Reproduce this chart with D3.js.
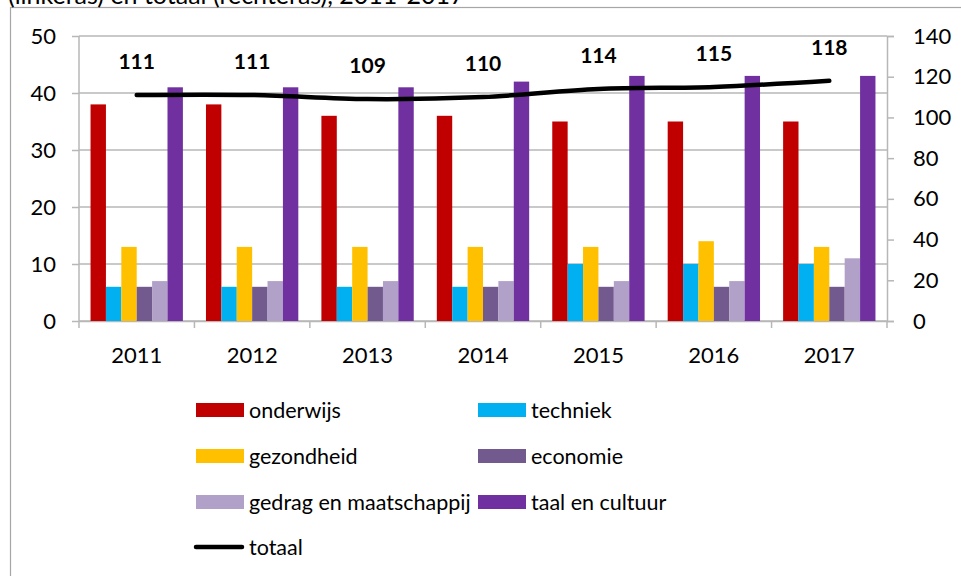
<!DOCTYPE html>
<html><head><meta charset="utf-8">
<script src="https://cdn.jsdelivr.net/npm/d3@7"></script>
<style>body{margin:0;background:#fff;}svg{display:block;font-family:Lato,"Open Sans",sans-serif;}</style>
</head><body>
<svg id="c" width="961" height="576"></svg>
<script>
const years = ["2011","2012","2013","2014","2015","2016","2017"];
const seriesNames = ["onderwijs","techniek","gezondheid","economie","gedrag en maatschappij","taal en cultuur"];
const seriesColors = ["#c00000","#00b0f0","#ffc000","#725a8f","#b1a0c7","#7030a0"];
const onderwijs = [38,38,36,36,35,35,35];
const techniek = [6,6,6,6,10,10,10];
const gezondheid = [13,13,13,13,13,14,13];
const economie = [6,6,6,6,6,6,6];
const gedrag = [7,7,7,7,7,7,11];
const taal = [41,41,41,42,43,43,43];
const totaal = [111,111,109,110,114,115,118];
const leftTicks = [0,10,20,30,40,50];
const rightTicks = [0,20,40,60,80,100,120,140];
const titleText = "(linkeras) en totaal (rechteras), 2011-2017";

const seriesValues = [onderwijs,techniek,gezondheid,economie,gedrag,taal];
const svg = d3.select("#c");
const L=79,R=887,T=36,B=321;
const grid="#b7b7b7";
const fs=22;

// frame
svg.append("rect").attr("x",10.5).attr("y",7.5).attr("width",960).attr("height",600)
  .attr("fill","none").attr("stroke","#a6a6a6").attr("stroke-width",1.2);
// title (cropped at top as in the reference)
svg.append("text").attr("x",8).attr("y",4).attr("font-size",25).attr("fill","#000").text(titleText);

const x0 = d3.scaleBand().domain(years).range([L,R]).paddingInner(0).paddingOuter(0);
const x1 = d3.scaleBand().domain(d3.range(6)).range([0,x0.bandwidth()]).paddingOuter(0.75).paddingInner(0);
const yL = d3.scaleLinear().domain([0,50]).range([B,T]);
const yR = d3.scaleLinear().domain([0,140]).range([B,T]);

// gridlines
svg.append("g").selectAll("line").data(leftTicks).join("line")
  .attr("x1",L).attr("x2",R).attr("y1",d=>yL(d)).attr("y2",d=>yL(d))
  .attr("stroke",grid).attr("stroke-width",1.5);

// axes
const axL = svg.append("g").attr("transform",`translate(${L},0)`)
  .call(d3.axisLeft(yL).tickValues(leftTicks).tickSize(7).tickPadding(16));
const axR = svg.append("g").attr("transform",`translate(${R},0)`)
  .call(d3.axisRight(yR).tickValues(rightTicks).tickSize(7).tickPadding(19));
const axB = svg.append("g").attr("transform",`translate(0,${B})`)
  .call(d3.axisBottom(x0).tickSize(0).tickPadding(26));
[axL,axR,axB].forEach(a=>{
  a.selectAll("path").attr("stroke",grid).attr("stroke-width",1.5);
  a.selectAll("line").attr("stroke",grid).attr("stroke-width",1.5);
  a.selectAll("text").attr("font-size",fs).attr("fill","#000").attr("font-family","Lato");
});
axL.select("path").remove();
svg.append("line").attr("x1",L).attr("x2",L).attr("y1",T).attr("y2",B).attr("stroke",grid).attr("stroke-width",1.5);
// bottom boundary ticks
svg.append("g").selectAll("line").data(d3.range(years.length+1)).join("line")
  .attr("x1",i=>L+i*x0.bandwidth()).attr("x2",i=>L+i*x0.bandwidth())
  .attr("y1",B).attr("y2",B+7).attr("stroke",grid).attr("stroke-width",1.5);

// bars
seriesValues.forEach((vals,si)=>{
  svg.append("g").selectAll("rect").data(vals).join("rect")
    .attr("x",(d,i)=>x0(years[i])+x1(si))
    .attr("width",x1.bandwidth())
    .attr("y",d=>yL(d)).attr("height",d=>B-yL(d))
    .attr("fill",seriesColors[si]);
});

// total line
const line = d3.line().x((d,i)=>x0(years[i])+x0.bandwidth()/2).y(d=>yR(d)).curve(d3.curveCatmullRom.alpha(0.5));
svg.append("path").datum(totaal).attr("d",line).attr("fill","none")
  .attr("stroke","#000").attr("stroke-width",4.5).attr("stroke-linecap","round");
svg.append("g").selectAll("text").data(totaal).join("text")
  .attr("x",(d,i)=>x0(years[i])+x0.bandwidth()/2)
  .attr("y",d=>yR(d)-26)
  .attr("text-anchor","middle").attr("font-size",21).attr("font-weight","bold").attr("fill","#000")
  .text(d=>d);

// legend
const legItems = seriesNames.map((n,i)=>({n,c:seriesColors[i],col:i%2,row:Math.floor(i/2)}));
const colX=[196,478], rowY=[410,456,502,547];
const lg = svg.append("g");
legItems.forEach(it=>{
  lg.append("rect").attr("x",colX[it.col]).attr("y",rowY[it.row]-7).attr("width",48).attr("height",14).attr("fill",it.c);
  lg.append("text").attr("x",colX[it.col]+53).attr("y",rowY[it.row]).attr("dy","0.35em")
    .attr("font-size",21.5).attr("fill","#000").text(it.n);
});
lg.append("line").attr("x1",196).attr("x2",242).attr("y1",rowY[3]).attr("y2",rowY[3])
  .attr("stroke","#000").attr("stroke-width",4.5).attr("stroke-linecap","round");
lg.append("text").attr("x",249).attr("y",rowY[3]).attr("dy","0.35em").attr("font-size",21.5).attr("fill","#000").text("totaal");
</script>
</body></html>
